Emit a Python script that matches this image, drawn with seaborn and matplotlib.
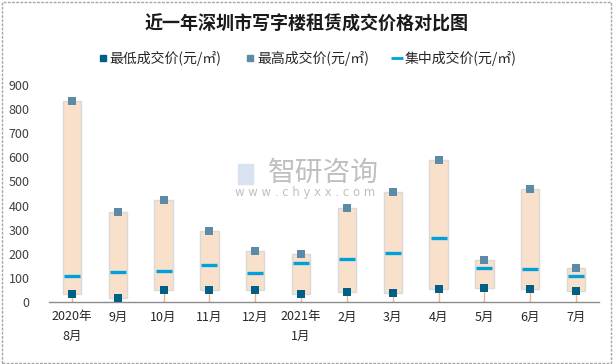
import matplotlib
matplotlib.use("Agg")
import matplotlib.pyplot as plt
import seaborn as sns
import pandas as pd
from matplotlib.patches import Rectangle
from matplotlib.lines import Line2D

categories = ["2020年\n8月", "9月", "10月", "11月", "12月", "2021年\n1月",
              "2月", "3月", "4月", "5月", "6月", "7月"]
min_price = [33, 17, 50, 50, 50, 33, 41, 37, 54, 58, 54, 46]
max_price = [834, 372, 422, 294, 211, 199, 389, 455, 588, 174, 468, 141]
mid_price = [108, 124, 128, 153, 120, 161, 178, 203, 265, 141, 137, 108]

df = pd.DataFrame({"cat": categories, "lo": min_price, "hi": max_price, "mid": mid_price})
df["span"] = df["hi"] - df["lo"]

sns.set_theme(style="white")
plt.rcParams["font.family"] = ["Noto Sans CJK SC", "DejaVu Sans"]

fig = plt.figure(figsize=(6.13, 3.64), dpi=100)
ax = fig.add_axes([0.08, 0.170, 0.897, 0.597])

pos = list(range(len(categories)))
ax.vlines(pos, 0, df["lo"], color="#F4B183", lw=1, zorder=1)
sns.barplot(data=df, x="cat", y="span", bottom=df["lo"], color="#F8E0CA",
            edgecolor="#D9D9D9", linewidth=1, width=0.4, saturation=1, ax=ax, zorder=2)
sns.scatterplot(data=df, x="cat", y="lo", marker="s", s=30, color="#005F86",
                linewidth=0, ax=ax, zorder=4)
sns.scatterplot(data=df, x="cat", y="hi", marker="s", s=30, color="#5B8BA6",
                linewidth=0, ax=ax, zorder=4)
sns.scatterplot(data=df, x="cat", y="mid", marker="_", s=140, color="#00A0DC",
                linewidth=2.4, ax=ax, zorder=3)

ax.set_xlim(-0.5, len(categories) - 0.5)
ax.set_ylim(0, 900)
ax.set_yticks(range(0, 901, 100))
ax.set_xlabel("")
ax.set_ylabel("")
for s in ["top", "right", "left"]:
    ax.spines[s].set_visible(False)
ax.spines["bottom"].set_color("#8C8C8C")
ax.spines["bottom"].set_linewidth(1)
ax.tick_params(axis="y", length=0, pad=14, labelsize=9, labelcolor="#404040")
ax.tick_params(axis="x", length=0, pad=6, labelsize=9, labelcolor="#262626")
for lab in ax.get_xticklabels():
    lab.set_linespacing(1.6)
    lab.set_verticalalignment("top")

fig.text(0.5, 0.935, "近一年深圳市写字楼租赁成交价格对比图", ha="center", va="center",
         fontsize=13, fontweight="bold", color="#1a1a1a")

handles = [
    Line2D([], [], marker="s", color="#005F86", ls="none", markersize=5),
    Line2D([], [], marker="s", color="#5B8BA6", ls="none", markersize=5),
    Line2D([], [], marker="_", color="#00A0DC", ls="none", markersize=8, markeredgewidth=2),
]
labels = ["最低成交价(元/㎡)", "最高成交价(元/㎡)", "集中成交价(元/㎡)"]
fig.legend(handles, labels, loc="center", bbox_to_anchor=(0.502, 0.84), ncol=3,
           frameon=False, fontsize=10, handlelength=0.5, handletextpad=0.25,
           columnspacing=1.8, labelcolor="#262626")

# watermark
fig.text(0.387, 0.522, "█", color="#C9D7EA", fontsize=15, ha="left", va="center", alpha=0.7,
         family="DejaVu Sans")
fig.text(0.437, 0.525, "智研咨询", color="#B0B0B0", fontsize=20, ha="left", va="center", alpha=0.8)
fig.text(0.383, 0.47, "w w w . c h y x x . c o m", color="#B0B0B0", fontsize=8.4,
         ha="left", va="center", alpha=0.8, family="DejaVu Sans")

fig.patches.append(Rectangle((0.003, 0.004), 0.993, 0.99, transform=fig.transFigure,
                             fill=False, edgecolor="#A6A6A6", lw=1, ls=(0, (2, 1))))

fig.savefig("out.png", dpi=100)
